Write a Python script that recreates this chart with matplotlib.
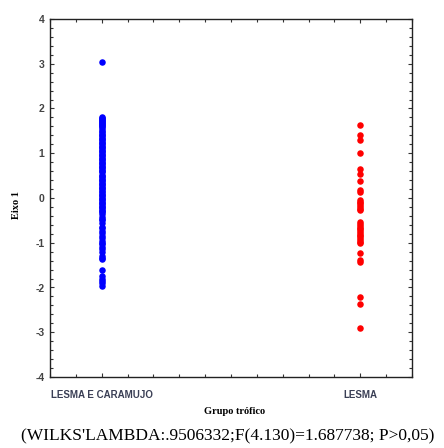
import matplotlib
matplotlib.use("Agg")
import matplotlib.pyplot as plt
from matplotlib.ticker import MultipleLocator

categories = ["LESMA E CARAMUJO", "LESMA"]
cat_pos = [1, 2]

blue_vals = [3.05,
    1.81, 1.79, 1.77, 1.74, 1.72, 1.70, 1.68, 1.66, 1.63, 1.61, 1.58, 1.55,
    1.50, 1.47, 1.44, 1.41, 1.38, 1.35, 1.32, 1.29, 1.26, 1.23, 1.20, 1.17,
    1.14, 1.11, 1.08, 1.05, 1.02, 0.99, 0.96, 0.93, 0.90, 0.87, 0.84, 0.81,
    0.78, 0.75, 0.72, 0.69, 0.66, 0.63, 0.60, 0.57, 0.52, 0.49, 0.46, 0.43,
    0.40, 0.37, 0.34, 0.31, 0.28, 0.25, 0.22, 0.19, 0.16, 0.13, 0.10, 0.07,
    0.04, 0.01, -0.02, -0.05, -0.08, -0.11, -0.14, -0.17, -0.20, -0.23, -0.26,
    -0.29, -0.32, -0.35, -0.42, -0.46, -0.50, -0.55, -0.64, -0.68, -0.73,
    -0.78, -0.86, -0.90, -0.95, -1.00, -1.03, -1.10, -1.15, -1.20, -1.30,
    -1.34, -1.37, -1.62, -1.75, -1.80, -1.86, -1.91, -1.97]

red_vals = [1.63, 1.41, 1.30, 1.01, 0.65, 0.54, 0.39, 0.18, 0.13,
    -0.04, -0.08, -0.12, -0.16, -0.20, -0.24, -0.26,
    -0.53, -0.58, -0.62, -0.66, -0.70, -0.74, -0.78, -0.82, -0.86, -0.90,
    -0.94, -0.98, -1.00, -1.22, -1.39, -1.43, -2.21, -2.37, -2.91]

y_ticks = [-4, -3, -2, -1, 0, 1, 2, 3, 4]

fig = plt.figure(figsize=(4.44, 4.48), dpi=100)
ax = fig.add_axes([50/444, 1-377/448, (412-50)/444, (377-19)/448])

ax.scatter([cat_pos[0]]*len(blue_vals), blue_vals, s=22, color="#0000ff", linewidths=0, zorder=3)
ax.scatter([cat_pos[1]]*len(red_vals), red_vals, s=22, color="#ff0000", linewidths=0, zorder=3)

ax.set_xlim(0.8, 2.2)
ax.set_ylim(-4, 4)
ax.set_xticks(cat_pos)
ax.set_xticklabels(categories, fontfamily="Liberation Sans", fontsize=7, fontweight="bold", color="#3a3f55")
ax.xaxis.set_minor_locator(MultipleLocator(0.1))
ax.set_yticks(y_ticks)
ax.set_yticklabels([str(v) for v in y_ticks], fontfamily="Liberation Sans", fontsize=7.5,
                   fontweight="bold", color="#444444")
ax.yaxis.set_minor_locator(MultipleLocator(0.2))
ax.tick_params(which="both", direction="in", top=True, right=True, color="#333333", width=0.8)
ax.tick_params(which="major", length=3)
ax.tick_params(axis="x", which="major", pad=9)
ax.tick_params(axis="y", which="major", pad=4)
ax.tick_params(which="minor", length=2)
for sp in ax.spines.values():
    sp.set_linewidth(1.0)
    sp.set_color("#222222")

fig.text(16/444, 1-205/448, "Eixo 1", fontfamily="Liberation Serif", fontsize=7.5,
         fontweight="bold", rotation=90, ha="center", va="center")
fig.text(235/444, 1-411/448, "Grupo trófico", fontfamily="Liberation Serif", fontsize=7.5,
         fontweight="bold", ha="center", va="center")
fig.text(228/444, 1-436/448, "(WILKS'LAMBDA:.9506332;F(4.130)=1.687738; P>0,05)",
         fontfamily="Liberation Serif", fontsize=12.5, ha="center", va="center")

fig.savefig("out.png", dpi=100)
